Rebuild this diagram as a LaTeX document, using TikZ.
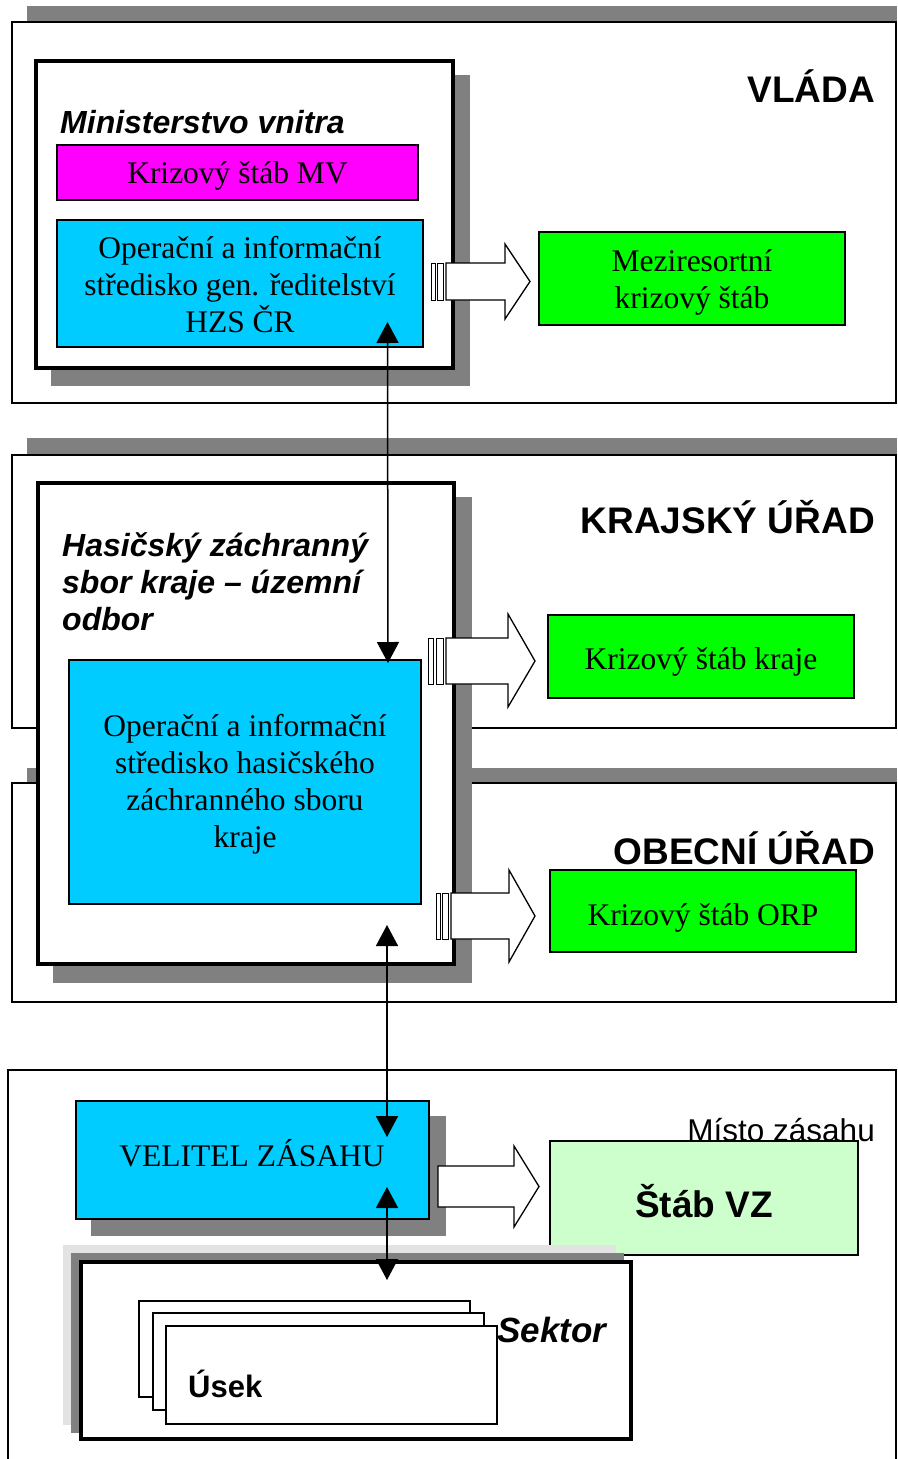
\documentclass[tikz,border=0pt]{standalone}
\usepackage{fontspec}
\setmainfont{Liberation Serif}
\newfontfamily\sansf{Liberation Sans}
\usetikzlibrary{arrows.meta}
\definecolor{shade}{HTML}{808080}
\definecolor{lshade}{HTML}{E3E3E3}
\definecolor{cyanb}{HTML}{00CCFF}
\definecolor{magb}{HTML}{FF00FF}
\definecolor{greenb}{HTML}{00FF00}
\definecolor{lgreen}{HTML}{CCFFCC}
\begin{document}
\begin{tikzpicture}[x=1pt,y=-1pt,
  rect/.style={anchor=north west, inner sep=0pt, outer sep=0pt, minimum width=#1},
  hh/.style={minimum height=#1},
  section/.style={draw=black, line width=1.5pt, fill=white},
  bar/.style={fill=shade, draw=none},
  thickbox/.style={draw=black, line width=3.5pt, fill=white},
  colbox/.style={draw=black, line width=1.5pt},
  serif/.style={font=\fontsize{31.5}{37}\selectfont, inner sep=0pt},
  head/.style={font=\sansf\bfseries\fontsize{37}{44}\selectfont, inner sep=0pt, anchor=base east},
  bital/.style={font=\sansf\bfseries\itshape\fontsize{32}{37}\selectfont, inner sep=0pt, anchor=base west, align=left},
  blockarrow/.style={draw=black, line width=1.3pt, fill=white, line join=miter},
  stripe/.style={draw=black, line width=0.9pt, fill=white},
  link/.style={line width=1.5pt, {Triangle[width=22pt,length=21pt]}-{Triangle[width=22pt,length=21pt]}},
]
\useasboundingbox (0,0) rectangle (897,1459);
\fill[white] (0,0) rectangle (897,1459);

% ---------- VLADA ----------
\node[rect=870, hh=16, bar] (vbar) at (27,6) {};
\node[rect=884, hh=381, section] (vlada) at (12,22) {};
\node[head] (vladat) at (875,102) {VLÁDA};

% ---------- KRAJSKY ----------
\node[rect=870, hh=17, bar] (kbar) at (27,438) {};
\node[rect=884, hh=273, section] (kraj) at (12,455) {};
\node[head] (krajt) at (875,533) {KRAJSKÝ ÚŘAD};

% ---------- OBECNI ----------
\node[rect=870, hh=15, bar] (obar) at (27,768) {};
\node[rect=884, hh=219, section] (obec) at (12,783) {};
\node[head] (obect) at (875,864) {OBECNÍ ÚŘAD};

% ---------- MV ----------
\node[rect=419, hh=311, bar] (mvsh) at (51,75) {};
\node[rect=417, hh=307, thickbox] (mv) at (36,61) {};
\node[bital] (mvt) at (60,133) {Ministerstvo vnitra};
\node[rect=361, hh=55, colbox, fill=magb] (ksmv) at (57,145) {};
\node[serif, anchor=base] (ksmvt) at (237.5,183) {Krizový štáb MV};
\node[rect=366, hh=127, colbox, fill=cyanb] (ois1) at (57,220) {};
\node[serif, anchor=base, align=center] (ois1t) at (240,332) {Operační a informační\\středisko gen. ředitelství\\HZS ČR};
\node[rect=306, hh=93, colbox, fill=greenb] (mks) at (539,232) {};
\node[serif, anchor=base, align=center] (mkst) at (692,308) {Meziresortní\\krizový štáb};

% ---------- HZS kraje ----------
\node[rect=419, hh=486, bar] (hzssh) at (53,497) {};
\node[rect=416, hh=481, thickbox] (hzs) at (38,483) {};
\node[bital] (hzst) at (62,630) {Hasičský záchranný\\sbor kraje – územní\\odbor};
\node[rect=352, hh=244, colbox, fill=cyanb] (ois2) at (69,660) {};
\node[serif, anchor=base, align=center] (ois2t) at (245,847) {Operační a informační\\středisko hasičského\\záchranného sboru\\kraje};
\node[rect=306, hh=83, colbox, fill=greenb] (ksk) at (548,615) {};
\node[serif, anchor=base] (kskt) at (701,669) {Krizový štáb kraje};
\node[rect=306, hh=82, colbox, fill=greenb] (ksorp) at (550,870) {};
\node[serif, anchor=base] (ksorpt) at (703,925) {Krizový štáb ORP};

% ---------- block arrows ----------
\draw[stripe] (431,263) rectangle (435,300);
\draw[stripe] (437,263) rectangle (443,300);
\draw[blockarrow] (446,263) -- (505,263) -- (505,244) -- (530,281.5) -- (505,319) -- (505,300) -- (446,300) -- cycle;

\draw[stripe] (428,638) rectangle (433,684);
\draw[stripe] (436,638) rectangle (443,684);
\draw[blockarrow] (446,638) -- (508,638) -- (508,614) -- (535,661) -- (508,707) -- (508,684) -- (446,684) -- cycle;

\draw[stripe] (436,893) rectangle (440,939);
\draw[stripe] (442,893) rectangle (448,939);
\draw[blockarrow] (451,893) -- (509,893) -- (509,870) -- (535,916) -- (509,962) -- (509,939) -- (451,939) -- cycle;

% ---------- Misto zasahu ----------
\draw[line width=1.5pt] (8,1470) -- (8,1070) -- (896,1070) -- (896,1470);
\node[font=\sansf\fontsize{31.5}{37}\selectfont, inner sep=0pt, anchor=base east] (mzt) at (875,1141) {Místo zásahu};
\node[rect=308, hh=114, colbox, fill=lgreen] (stvz) at (550,1141) {};
\node[font=\sansf\bfseries\fontsize{37}{44}\selectfont, inner sep=0pt, anchor=base] (stvzt) at (704,1217) {Štáb VZ};
\node[rect=355, hh=120, bar] (vzsh) at (91,1116) {};
\node[rect=353, hh=118, colbox, fill=cyanb] (vz) at (76,1101) {};
\node[serif, anchor=base] (vzt) at (252,1166) {VELITEL ZÁSAHU};
\draw[blockarrow] (438,1166) -- (514,1166) -- (514,1146) -- (539,1186.5) -- (514,1227) -- (514,1207) -- (438,1207) -- cycle;

% ---------- Sektor ----------
\node[rect=553, hh=180, fill=lshade] (seksh1) at (63,1245) {};
\node[rect=553, hh=180, bar] (seksh2) at (71,1253) {};
\node[rect=550, hh=177, thickbox] (sektor) at (81,1262) {};
\node[rect=331, hh=96, draw=black, line width=1.5pt, fill=white] (usek1) at (139,1301) {};
\node[rect=331, hh=97, draw=black, line width=1.5pt, fill=white] (usek2) at (153,1313) {};
\node[rect=331, hh=98, draw=black, line width=1.5pt, fill=white] (usek3) at (166,1326) {};
\node[font=\sansf\bfseries\itshape\fontsize{35}{40}\selectfont, inner sep=0pt, anchor=base west] (sekt) at (497,1342) {Sektor};
\node[font=\sansf\bfseries\fontsize{31}{36}\selectfont, inner sep=0pt, anchor=base west] (usekt) at (188,1397) {Úsek};

% ---------- links ----------
\coordinate (l1a) at (387.5,322);
\coordinate (l1b) at (388,663);
\coordinate (l2a) at (387,925);
\coordinate (l2b) at (387,1137);
\coordinate (l3a) at (387,1187);
\coordinate (l3b) at (387,1280);
\draw[link] (l1a) -- (l1b);
\draw[link] (l2a) -- (l2b);
\draw[link] (l3a) -- (l3b);
\end{tikzpicture}
\end{document}
